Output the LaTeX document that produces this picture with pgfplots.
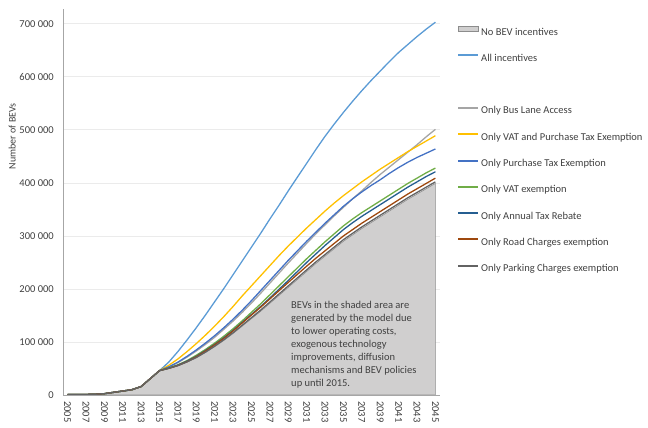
\documentclass[border=0pt]{standalone}
\usepackage{pgfplots}
\pgfplotsset{compat=1.18}
\usepackage{pgfplotstable}
\usepackage{fontspec}
\setmainfont{Carlito}

\definecolor{allinc}{HTML}{5B9BD5}
\definecolor{buslane}{HTML}{A5A5A5}
\definecolor{vatpurch}{HTML}{FFC000}
\definecolor{purch}{HTML}{4472C4}
\definecolor{vatex}{HTML}{70AD47}
\definecolor{annual}{HTML}{255E91}
\definecolor{road}{HTML}{9E480E}
\definecolor{parking}{HTML}{636363}
\definecolor{areafill}{HTML}{D0CFCF}
\definecolor{areaedge}{HTML}{8C8C8C}
\definecolor{axisgray}{HTML}{A6A6A6}
\definecolor{gridgray}{HTML}{EBEBEB}
\definecolor{txt}{HTML}{404040}

\newcommand\lblfont{\fontsize{10.5bp}{12.6bp}\selectfont}

\pgfplotsset{
  linelegend/.style={legend image code/.code={\draw[##1, line width=2bp] (0bp,3.5bp) -- (20bp,3.5bp);}},
  boxlegend/.style={legend image code/.code={\draw[##1, line width=0.6bp] (0bp,1bp) rectangle (20bp,6bp);}},
}

% Number of BEVs per scenario
\pgfplotstableread{
year base park road annual vat purch bus vp all
2005 1000 1000 1000 1000 1000 1000 1000 1000 1000
2006 1000 1000 1000 1000 1000 1000 1000 1000 1000
2007 1000 1000 1000 1000 1000 1000 1000 1000 1000
2008 1500 1500 1500 1500 1500 1500 1500 1500 1500
2009 2500 2500 2500 2500 2500 2500 2500 2500 2500
2010 5000 5000 5000 5000 5000 5000 5000 5000 5000
2011 7500 7500 7500 7500 7500 7500 7500 7500 7500
2012 10000 10000 10000 10000 10000 10000 10000 10000 10000
2013 16000 16000 16000 16000 16000 16000 16000 16000 16000
2014 31000 31000 31000 31000 31000 31000 31000 31000 31000
2015 46000 46000 46000 46000 46000 46000 46000 46000 46000
2016 50000 50200 50300 50500 51000 53000 52500 56000 62000
2017 55000 55400 55800 56200 57000 62000 61000 68000 82000
2018 62000 62600 63000 64000 65000 73000 71500 82000 104000
2019 70000 70800 72200 73000 75000 85000 83000 97000 127000
2020 80000 81000 83000 84000 86000 98000 95500 113000 151000
2021 91000 92200 94800 95500 98000 112000 109000 130000 176000
2022 103000 104400 107000 108000 111000 127000 124000 148000 201000
2023 116000 117600 121000 122000 125000 143000 139500 167000 227000
2024 130000 131800 136000 137000 140000 160000 156000 187000 253000
2025 144000 146000 151000 152000 156000 178000 173500 206000 279000
2026 158000 160200 165600 167000 172000 197000 192000 225000 305000
2027 173000 175400 181200 183000 189000 216000 211000 244000 332000
2028 188000 190600 196800 199500 206000 235000 230000 263000 358000
2029 203000 205800 212300 216000 223000 254000 249000 281000 385000
2030 218000 220900 227700 233000 240000 272000 267500 298000 411000
2031 233000 236000 243000 250000 257000 290000 286000 315000 437000
2032 248000 251000 258000 266000 273000 307000 304000 331000 463000
2033 262000 265000 272000 282000 289000 324000 321000 347000 488000
2034 276000 279000 286000 297000 304000 340000 338000 362000 511000
2035 290000 293000 300000 312000 319000 356000 354000 376000 533000
2036 302000 305000 312000 325000 332000 370000 370000 389000 554000
2037 314000 317000 324000 337000 344000 383000 385000 402000 574000
2038 325000 328000 335000 348000 355000 395000 401000 414000 593000
2039 336000 339000 346000 359000 366000 406000 416000 426000 611000
2040 347000 350000 357000 370000 377000 418000 430000 437000 629000
2041 358000 361000 368000 381000 388000 429000 444000 448000 646000
2042 369000 372000 379000 392000 399000 439000 458000 459000 661000
2043 379000 382000 389000 402000 409000 448000 472000 469000 676000
2044 389000 392000 399000 412000 419000 456000 487000 479000 690000
2045 399000 402000 409000 421000 428000 464000 501000 489000 703000
}\bevdata

\begin{document}
\begin{tikzpicture}
\useasboundingbox (0,0) rectangle (648bp,428bp);
\begin{axis}[
  at={(63bp,33bp)}, anchor=south west,
  scale only axis, width=377bp, height=386bp,
  xmin=2004.5, xmax=2045.5, ymin=0, ymax=728000,
  scaled y ticks=false,
  axis x line*=bottom, axis y line*=left,
  axis line style={draw=axisgray, line width=0.9bp},
  major tick length=0pt,
  ymajorgrids, grid style={draw=gridgray, line width=0.8bp},
  ytick={0,100000,200000,300000,400000,500000,600000,700000},
  yticklabels={0,100 000,200 000,300 000,400 000,500 000,600 000,700 000},
  yticklabel style={font=\lblfont, text=txt, inner sep=0pt, anchor=east, xshift=-9bp},
  xtick={2005,2007,...,2045},
  xticklabels={2005,2007,2009,2011,2013,2015,2017,2019,2021,2023,2025,2027,2029,2031,2033,2035,2037,2039,2041,2043,2045},
  xticklabel style={font=\lblfont, text=txt, inner sep=0pt, rotate=-90, anchor=west},
  xticklabel shift=6bp,
  ylabel={Number of BEVs},
  ylabel style={font=\fontsize{10bp}{12bp}\selectfont, text=txt, at={(axis description cs:-0.135,0.67)}, anchor=center},
  every axis plot/.append style={line width=1.3bp},
  legend cell align=left,
  legend style={at={(axis description cs:1.0451,0.9557)}, anchor=north west,
    draw=none, fill=none, inner sep=0pt, row sep=16.3bp,
    font=\lblfont,
    nodes={inner sep=0pt, text height=7.5bp, text depth=2.5bp},
    /tikz/every odd column/.append style={column sep=2bp}},
  linelegend,
]
\addplot[fill=areafill, draw=areaedge, line width=0.6bp, boxlegend]
  table[x=year, y=base] {\bevdata} \closedcycle;
\addlegendentry{\textcolor{txt}{No BEV incentives}}
\addplot[allinc] table[x=year, y=all] {\bevdata};
\addlegendentry{\textcolor{txt}{All incentives}}
\addlegendimage{empty legend}
\addlegendentry{}
\addplot[buslane] table[x=year, y=bus] {\bevdata};
\addlegendentry{\textcolor{txt}{Only Bus Lane Access}}
\addplot[vatpurch] table[x=year, y=vp] {\bevdata};
\addlegendentry{\textcolor{txt}{Only VAT and Purchase Tax Exemption}}
\addplot[purch] table[x=year, y=purch] {\bevdata};
\addlegendentry{\textcolor{txt}{Only Purchase Tax Exemption}}
\addplot[vatex] table[x=year, y=vat] {\bevdata};
\addlegendentry{\textcolor{txt}{Only VAT exemption}}
\addplot[annual] table[x=year, y=annual] {\bevdata};
\addlegendentry{\textcolor{txt}{Only Annual Tax Rebate}}
\addplot[road] table[x=year, y=road] {\bevdata};
\addlegendentry{\textcolor{txt}{Only Road Charges exemption}}
\addplot[parking] table[x=year, y=park] {\bevdata};
\addlegendentry{\textcolor{txt}{Only Parking Charges exemption}}

\node[anchor=north west, inner sep=0pt, align=left, text=txt,
  font=\fontsize{10.5bp}{13bp}\selectfont]
  at (axis cs:2029.3,177500)
  {BEVs in the shaded area are\\generated by the model due\\to lower operating costs,\\exogenous technology\\improvements, diffusion\\mechanisms and BEV policies\\up until 2015.};
\end{axis}
\end{tikzpicture}
\end{document}
